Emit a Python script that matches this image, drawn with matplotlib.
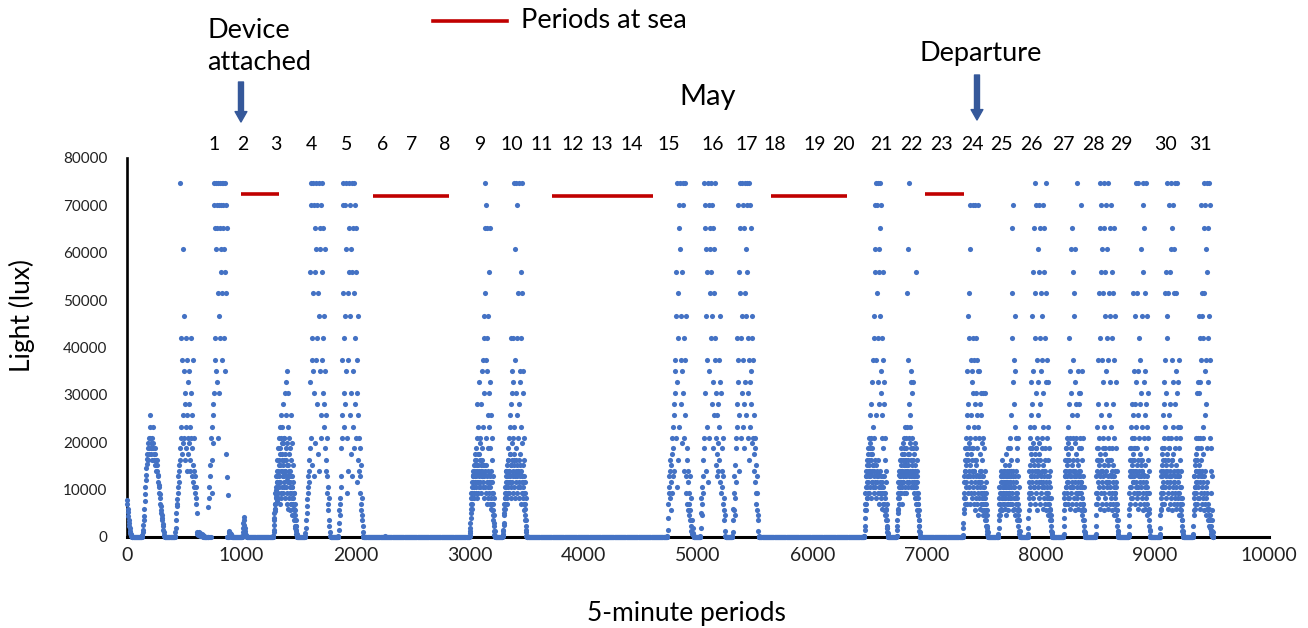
import numpy as np
import matplotlib
matplotlib.use("Agg")
import matplotlib.pyplot as plt
from matplotlib import transforms
from matplotlib.lines import Line2D

plt.rcParams['font.family'] = ['Lato', 'DejaVu Sans']

# ---------------- data ----------------
STEP = 3  # readings shown every 3 five-minute periods

# light bursts (values in klux), start period of each burst
lux_b00 = [7.8, 7, 6, 5.2, 4.5, 3.6, 3, 2.4, 1.8, 1.3, 0.9, 0.6, 0.4, 0.2, 0.1, 0.05, 0]
lux_b01 = [0.2, 0.5, 1, 1.5, 2.5, 3.5, 4.5, 6, 7.5, 9, 10.5, 12, 13, 14.5, 15.5, 16.5,
           17.5, 18.7, 16.3, 19.8, 21, 18.7, 17.5, 23.3, 25.7, 21, 19.8, 18.7, 17.5, 16.3, 18.7,
           21, 23.3, 19.8, 18.7, 17.5, 16.3, 15.2, 17.5, 18.7, 16.3, 15.2, 14, 16.3, 15.2, 14,
           13, 12.8, 11.7, 10.5, 11, 9.3, 9, 8.2, 7, 6.5, 5.8, 5, 4.7, 4, 3.5, 2.8, 2.3, 1.5, 1, 0.5, 0.2]
lux_b02 = [0.3, 1, 2, 3.5, 5, 6.5, 8, 7, 9.3, 10.5, 12.8, 14, 11.7, 15.2, 16.3,
           18.7, 74.7, 21, 42, 23.3, 37.3, 17.5, 60.7, 25.7, 19.8, 46.7, 35, 21, 28, 16.3, 30.3,
           18.7, 23.3, 42, 14, 25.7, 37.3, 17.5, 21, 32.7, 35,
           19.8, 28, 23.3, 14, 16.3, 42, 30.3, 21, 12.8, 18.7, 25.7, 37.3, 15.2, 11.7, 21, 10.5,
           14, 9.3, 12.8, 8.2, 10.5, 7, 5, 1]
lux_b03 = [0.6, 0.9, 0.4, 0.7, 1.0, 0.5, 0.8, 0.3, 0.6, 0.9, 0.4, 0.2, 0.5, 0.3, 0.6, 0.2,
           0.4, 0.1, 0.3, 0.2]
lux_b04 = [0, 6.4, 0, 8.2, 10.5, 0, 12.8, 15.2, 0, 21, 9.3, 23.3, 16.3, 25.7, 19.8, 28,
           74.7, 30.3, 70, 42, 65.3, 37.3, 60.7, 74.7, 35, 70, 32.7, 65.3, 21, 74.7, 51.4, 30.3,
           70, 46.7, 74.7, 42, 65.3, 56, 70, 60.7, 74.7, 51.4, 37.3, 70, 65.3, 74.7, 42,
           60.7, 56, 74.7, 35, 51.4, 70, 17.5, 65.3, 0, 12.7, 0, 8.9, 0, 0]
lux_b05 = [1.1, 0.8, 1.2, 0.6, 0.9, 0.4, 0.7, 0.3, 0.5, 0.2, 0.1]
lux_b06 = [0.3, 1, 2, 3, 4.3, 3.5, 2.6, 1.8, 1.2, 0.8, 0.5, 0.3, 0.2, 0.1, 0]
lux_b07 = [0.3, 1, 2.5, 4, 5.5, 7, 6, 8.5, 10, 9, 11.7, 7.5, 12.8, 10.5, 14, 8.2,
           16.3, 21, 11.7, 23.3, 15.2, 18.7, 25.7, 9.3, 21, 14, 17.5, 23.3, 12.8, 19.8, 28, 16.3,
           10.5, 21, 30.3, 14, 18.7, 25.7, 32.7, 12, 35,
           19.8, 30.3, 15.2, 23.3, 11.7, 21, 17.5, 9.3, 18.7, 14, 25.7, 7, 16.3, 12.8, 19.8, 10.5,
           8.2, 15.2, 11.7, 6,
           9.3, 4.7, 7, 3.5, 5.8, 2.3, 3.5, 1.5, 0.6, 0.2]
lux_b08 = [0.2, 0.8, 2, 3.5, 5, 8, 6.5, 10.5, 12.8, 9.3, 14, 11.7, 16.3, 56, 18.7, 32.7,
           74.7, 21, 70, 42, 37.3, 15.2, 35, 74.7, 51.4, 30.3, 12.8, 70, 56, 19.8, 65.3,
           60.7, 74.7, 37.3, 42, 28, 70, 51.4, 17.5, 46.7, 14, 74.7, 35, 65.3, 60.7, 21,
           70, 25.7, 56, 37.3, 74.7, 42, 65.3, 30.3, 23.3, 46.7, 28, 35, 18.7, 60.7, 16.3,
           25.7, 14, 12.8, 21, 9.3, 10.5, 7, 5.8, 8.2, 3.5, 2.3, 1, 0.3]
lux_b09 = [0.3, 1.5, 3, 5.8, 4.7, 8.2, 7, 10.5, 12.8, 18.7, 21, 37.3, 25.7, 70, 51.4, 74.7,
           30.3, 42, 23.3, 46.7, 70, 28, 35, 60.7, 74.7, 9.3, 21, 51.4, 14, 37.3, 56,
           74.7, 65.3, 25.7, 46.7, 70, 17.5, 60.7, 30.3, 74.7, 12.8, 56, 23.3, 35, 65.3, 51.4,
           74.7, 18.7, 42, 70, 28, 65.3, 21, 56, 11.7, 37.3, 30.3, 16.3, 46.7, 25.7, 14,
           21, 9.3, 18.7, 12.8, 7, 15.2, 5.8, 8.2, 4.7, 3.5, 2.3, 1, 0.3]
lux_b10 = [0.3]
lux_b11 = [0.2, 0.8, 2, 4, 6, 8.2, 7, 10.5, 9.3, 12.8, 11.7, 14, 8.2, 15.2, 10.5, 16.3,
           12.8, 17.5, 9.3, 14, 18.7, 21, 11.7, 28, 15.2, 23.3, 10.5, 32.7, 17.5, 13, 19.8,
           21, 14, 16.3, 28, 12.8, 18.7, 35, 37.3, 23.3, 15.2, 42, 30.3, 46.7, 51.4, 65.3,
           74.7, 37.3, 70, 21, 35, 42, 65.3, 25.7, 18.7, 46.7, 56, 30.3, 23.3, 32.7, 65.3,
           18.7, 25.7, 14, 21, 11.7, 16.3, 9.3, 12.8, 7, 8.2, 4.7, 3, 1.2, 0.3]
lux_b12 = [0.2, 0.6, 1.5, 3, 5, 7, 6, 9.3, 8.2, 11.7, 10.5, 14, 7, 12.8, 16.3, 9.3,
           18.7, 14, 21, 11.7, 23.3, 17.5, 25.7, 15.2, 28, 42, 19.8, 30.3, 35, 21, 32.7,
           42, 16.3, 74.7, 23.3, 60.7, 37.3, 12.8, 74.7, 30.3, 18.7, 70, 25.7, 42, 14, 21,
           51.4, 74.7, 28, 35, 17.5, 32.7, 42, 23.3, 56, 74.7, 51.4, 19.8, 30.3, 15.2, 35,
           21, 12.8, 16.3, 9.3, 11.7, 6, 8.2, 3.5, 1.5, 0.3]
lux_b13 = [0.3, 1.5, 4, 7, 9.3, 12.8, 10.5, 14, 8.2, 16.3, 11.7, 5.8, 15.2, 9.3, 17.5, 21,
           12.8, 23.3, 18.7, 25.7, 28, 14, 30.3, 37.3, 35, 46.7, 56, 21, 74.7, 10.5, 32.7,
           51.4, 16.3, 42, 70, 65.3, 23.3, 74.7, 60.7, 37.3, 28, 46.7, 19.8, 56, 35, 70,
           74.7, 30.3, 14, 42, 21, 74.7, 25.7, 37.3, 9.3, 46.7, 12.8, 18.7, 7, 16.3, 5.8,
           11.7, 14, 4.7, 9.3, 7, 3.5, 12.8, 5.8, 2.3, 8.2, 1.2, 3.5, 0.6, 1.8, 0.4, 0.8, 0.2]
lux_b14 = [0.3, 2, 5, 8.2, 4.7, 10.5, 7, 12.8, 16.3, 9.3, 18.7, 21, 74.7, 70, 30.3, 65.3,
           60.7, 46.7, 14, 56, 23.3, 37.3, 74.7, 11.7, 70, 35, 21, 65.3, 51.4, 60.7, 42,
           74.7, 56, 28, 70, 46.7, 18.7, 32.7, 65.3, 51.4, 25.7, 60.7, 37.3, 74.7, 42, 15.2,
           21, 30.3, 17.5, 25.7, 12.8, 19.8, 28, 14, 23.3, 16.3, 37.3, 46.7, 11.7, 32.7, 9.3,
           30.3, 18.7, 14, 10.5, 21, 7, 12.8, 5.8, 8.2, 3.5, 4.7, 1.2, 0.3]
lux_b15 = [0.2, 1, 3.5, 6, 9.3, 5.8, 12.8, 8.2, 15.2, 4.7, 18.7, 11.7, 21, 42, 28, 23.3,
           70, 37.3, 32.7, 25.7, 56, 14, 65.3, 51.4, 74.7, 42, 21, 30.3, 74.7, 46.7, 70,
           23.3, 37.3, 28, 65.3, 18.7, 74.7, 51.4, 32.7, 60.7, 46.7, 25.7, 70, 74.7, 56, 30.3,
           42, 21, 74.7, 37.3, 16.3, 70, 32.7, 23.3, 65.3, 35, 28, 46.7, 19.8, 42, 21,
           37.3, 17.5, 25.7, 14, 21, 11.7, 18.7, 9.3, 15.2, 7, 12.8, 5.8, 9.3, 3.5, 4.7, 1.2, 0.3]
lux_b16 = [0.3, 1.5, 4, 7, 10.5, 5.8, 12.8, 8.2, 15.2, 11.7, 18.7, 14, 9.3, 21, 16.3, 12.8,
           19.8, 25.7, 14, 21, 17.5, 28, 11.7, 18.7, 32.7, 23.3, 37.3, 15.2, 21, 42, 46.7,
           60.7, 70, 56, 74.7, 25.7, 37.3, 51.4, 70, 32.7, 42, 74.7, 60.7, 28, 56, 46.7,
           65.3, 74.7, 35, 30.3, 70, 21, 42, 25.7, 37.3, 56, 18.7, 28, 12.8, 32.7, 16.3,
           21, 9.3, 14, 5.8, 11.7, 3.5, 7, 1.8, 0.8, 0.2]
lux_b17 = [0.3, 1.5, 3.5, 6, 9.3, 5.8, 11.7, 8.2, 14, 10.5, 12.8, 16.3, 9.3, 18.7, 14, 7,
           17.5, 11.7, 19.8, 13, 21, 15.2, 18.7, 23.3, 12.8, 16.3, 21, 9.3, 18.7, 23.3, 14,
           51.4, 17.5, 37.3, 60.7, 21, 74.7, 28, 19.8, 25.7, 23.3, 35, 18.7, 32.7, 30.3, 16.3,
           21, 18.7, 14, 32.7, 17.5, 12.8, 19.8, 15.2, 10.5, 56, 18.7, 8.2, 14, 11.7, 16.3,
           7, 9.3, 4.7, 5.8, 2.3, 3.5, 1, 0.2]
lux_b18 = [0.3, 2, 5, 8.2, 11.7, 7, 14, 18.7, 10.5, 21, 16.3, 25.7, 12.8, 35, 23.3, 46.7,
           28, 42, 19.8, 51.4, 21, 70, 60.7, 37.3, 25.7, 35, 18.7, 32.7, 30.3, 42, 70,
           23.3, 37.3, 14, 28, 70, 21, 42, 30.3, 16.3, 25.7, 37.3, 18.7, 70, 35, 23.3,
           12.8, 21, 35, 17.5, 28, 11.7, 25.7, 30.3, 14, 19.8, 9.3, 16.3, 21, 12.8, 30.3,
           18.7, 10.5, 14, 8.2, 30.3, 11.7, 7, 9.3, 4.7, 5.8, 2.3, 1, 0.2]
lux_b19 = [0.3, 2, 4.7, 8.2, 5.8, 10.5, 7, 12.8, 9.3, 14, 11.7, 8.2, 16.3, 10.5, 12.8, 9.3,
           14, 7, 11.7, 15.2, 8.2, 12.8, 10.5, 17.5, 9.3, 14, 11.7, 18.7, 7, 12.8, 10.5,
           15.2, 9.3, 21, 11.7, 18.7, 8.2, 14, 25.7, 51.4, 65.3, 42, 70, 32.7, 12.8, 37.3,
           28, 10.5, 23.3, 46.7, 35, 21, 14, 18.7, 9.3, 16.3, 12.8, 7, 21, 10.5, 5.8,
           3.5, 1.2, 0.2]
lux_b20 = [0.3, 2, 5.8, 9.3, 14, 18.7, 23.3, 21, 12.8, 32.7, 25.7, 46.7, 16.3, 28, 56, 35,
           65.3, 10.5, 23.3, 74.7, 42, 51.4, 18.7, 30.3, 70, 21, 37.3, 14, 60.7, 25.7, 32.7,
           56, 70, 19.8, 42, 65.3, 28, 11.7, 51.4, 35, 21, 37.3, 46.7, 23.3, 70, 30.3,
           65.3, 14, 56, 42, 18.7, 51.4, 32.7, 74.7, 37.3, 21, 9.3, 23.3, 16.3, 32.7, 12.8,
           18.7, 7, 14, 10.5, 5.8, 8.2, 3.5, 4.7, 1, 0.2]
lux_b21 = [0.3, 2.3, 5.8, 9.3, 14, 7, 12.8, 18.7, 10.5, 21, 16.3, 11.7, 23.3, 8.2, 19.8, 42,
           14, 28, 21, 35, 12.8, 60.7, 30.3, 18.7, 65.3, 25.7, 10.5, 21, 37.3, 56, 46.7,
           51.4, 14, 32.7, 19.8, 60.7, 28, 12.8, 21, 74.7, 16.3, 25.7, 35, 9.3, 30.3, 18.7,
           28, 14, 21, 30.3, 11.7, 70, 18.7, 35, 8.2, 16.3, 12.8, 21, 7, 10.5, 5.8,
           3.5, 1, 0.2]
lux_b22 = [0.3, 2.3, 7, 12.8, 18.7, 9.3, 23.3, 37.3, 16.3, 28, 51.4, 21, 74.7, 42, 65.3, 56,
           25.7, 70, 37.3, 14, 60.7, 21, 51.4, 32.7, 74.7, 23.3, 65.3, 46.7, 18.7, 56, 35,
           70, 28, 42, 11.7, 60.7, 21, 74.7, 37.3, 25.7, 51.4, 16.3, 65.3, 46.7, 32.7, 70,
           23.3, 56, 18.7, 42, 28, 12.8, 51.4, 37.3, 21, 65.3, 9.3, 46.7, 14, 32.7, 18.7,
           10.5, 14, 5.8, 7, 3.5, 1.2, 0.2]
lux_b23 = [0.3, 2.3, 6, 10.5, 14, 18.7, 8.2, 23.3, 12.8, 21, 28, 16.3, 51.4, 25.7, 11.7, 35,
           21, 18.7, 28, 46.7, 14, 74.7, 23.3, 32.7, 9.3, 51.4, 18.7, 25.7, 35, 74.7, 12.8,
           42, 21, 37.3, 28, 16.3, 60.7, 30.3, 23.3, 46.7, 14, 74.7, 56, 70, 65.3, 32.7,
           21, 51.4, 25.7, 35, 18.7, 74.7, 28, 46.7, 12.8, 23.3, 30.3, 16.3, 21, 9.3, 14,
           5, 1.5, 0.2]
lux_b24 = [0.3, 2, 5.8, 9.3, 14, 7, 12.8, 18.7, 10.5, 25.7, 16.3, 28, 21, 32.7, 51.4, 37.3,
           23.3, 56, 30.3, 14, 42, 74.7, 46.7, 21, 51.4, 18.7, 70, 25.7, 12.8, 56, 28,
           60.7, 74.7, 21, 37.3, 16.3, 65.3, 32.7, 23.3, 70, 11.7, 51.4, 60.7, 18.7, 74.7, 28,
           35, 21, 51.4, 14, 30.3, 74.7, 23.3, 32.7, 9.3, 18.7, 37.3, 12.8, 23.3, 21, 16.3,
           10.5, 14, 7, 8.2, 3.5, 1.2, 0.2]
lux_b25 = [0.3, 2.3, 5.8, 9.3, 12.8, 7, 16.3, 10.5, 14, 21, 11.7, 18.7, 30.3, 32.7, 8.2, 21,
           46.7, 30.3, 14, 42, 32.7, 21, 70, 18.7, 37.3, 51.4, 12.8, 46.7, 21, 42, 23.3,
           65.3, 74.7, 51.4, 35, 25.7, 70, 28, 37.3, 60.7, 74.7, 56, 18.7, 42, 65.3, 32.7,
           74.7, 46.7, 21, 70, 37.3, 14, 18.7, 9.3, 12.8, 5.8, 3.5, 1, 0.2]

burst_starts = [0, 130, 420, 615, 710, 890, 1010, 1280, 1560, 1850, 2260, 3000, 3290,
                4730, 5020, 5300, 6455, 6740, 7320, 7630, 7890, 8200, 8480, 8770, 9045, 9335]
burst_values = [lux_b00, lux_b01, lux_b02, lux_b03, lux_b04, lux_b05, lux_b06, lux_b07,
                lux_b08, lux_b09, lux_b10, lux_b11, lux_b12, lux_b13, lux_b14, lux_b15,
                lux_b16, lux_b17, lux_b18, lux_b19, lux_b20, lux_b21, lux_b22, lux_b23,
                lux_b24, lux_b25]

# additional (interleaved) low-light readings inside the denser days, klux
lux_f07 = [0.2, 1.5, 3.5, 5, 7, 9.3, 6, 10.5, 12.8, 8.2, 14, 11.7, 16.3, 9.3, 13, 18.7,
           10.5, 15.2, 12.8, 7, 17.5, 11.7, 14, 8.2, 16.3, 19.8, 10.5, 12.8, 15.2, 9.3, 21,
           13, 11.7, 17.5, 8.2, 14, 10.5, 16.3, 12.8, 7, 15.2, 9.3, 13, 11.7, 6,
           14, 8.2, 12.8, 10.5, 5.8, 11.7, 7, 9.3, 12.8, 4.7, 8.2, 10.5, 6, 7, 9.3,
           3.5, 5.8, 2.3, 4.7, 1.8, 2.3, 1.2, 0.6, 0.3, 0.1]
lux_f11 = [0.3, 1.2, 3, 5, 7, 9.3, 6, 11.7, 8.2, 13, 10.5, 12.8, 14, 9.3, 15.2, 11.7,
           13, 16.3, 10.5, 12.8, 14, 8.2, 15.2, 11.7, 17.5, 9.3, 13, 12.8, 14, 10.5, 16.3,
           11.7, 15.2, 13, 9.3, 14, 12.8, 16.3, 10.5, 13, 11.7, 8.2, 15.2, 12.8, 14,
           10.5, 13, 9.3, 15.2, 11.7, 7, 12.8, 14, 10.5, 8.2, 13, 11.7, 9.3, 12.8, 7,
           10.5, 8.2, 11.7, 6, 9.3, 5.8, 7, 4.7, 5.8, 3.5, 2.3, 1.2, 0.5, 0.2]
lux_f12 = [0.3, 1.2, 2.5, 4.7, 6, 8.2, 10.5, 7, 12.8, 9.3, 14, 11.7, 8.2, 15.2, 12.8, 10.5,
           16.3, 13, 9.3, 14, 11.7, 17.5, 12.8, 10.5, 15.2, 8.2, 13, 16.3, 11.7, 14, 9.3,
           12.8, 15.2, 10.5, 17.5, 13, 8.2, 14, 11.7, 16.3, 12.8, 9.3, 15.2, 10.5, 13,
           14, 11.7, 16.3, 8.2, 12.8, 15.2, 10.5, 13, 7, 14, 11.7, 9.3, 12.8, 10.5, 8.2,
           11.7, 7, 9.3, 5.8, 7, 4.7, 3.5, 2.3, 1, 0.2]
lux_f16 = [0.3, 2.3, 5.8, 9.3, 12.8, 7, 14, 10.5, 16.3, 8.2, 13, 17.5, 11.7, 15.2, 9.3, 14,
           18.7, 12.8, 10.5, 16.3, 13, 8.2, 14, 11.7, 17.5, 10.5, 15.2, 12.8, 9.3, 14, 11.7,
           16.3, 10.5, 13, 8.2, 15.2, 12.8, 11.7, 14, 9.3, 12.8, 16.3, 10.5, 7, 13,
           11.7, 9.3, 14, 8.2, 12.8, 10.5, 6, 11.7, 9.3, 12.8, 7, 10.5, 5.8, 9.3, 7,
           8.2, 4.7, 6, 3.5, 4.7, 2.3, 1.8, 1, 0.4, 0.1]
lux_f17 = [0.3, 2.3, 5, 8.2, 11.7, 7, 13, 10.5, 14, 12.8, 9.3, 15.2, 11.7, 16.3, 13, 10.5,
           14, 12.8, 16.3, 11.7, 15.2, 9.3, 17.5, 13, 14, 10.5, 16.3, 12.8, 15.2, 11.7, 13,
           14, 16.3, 10.5, 15.2, 12.8, 17.5, 11.7, 14, 13, 16.3, 10.5, 12.8, 15.2, 11.7,
           14, 12.8, 10.5, 16.3, 9.3, 13, 11.7, 14, 8.2, 12.8, 10.5, 7, 11.7, 9.3, 12.8,
           5.8, 8.2, 4.7, 7, 3.5, 2.3, 1.2, 0.4, 0.1]
lux_f18 = [0.5, 3, 6, 9.3, 12.8, 16.3, 8.2, 14, 18.7, 11.7, 15.2, 7, 17.5, 12.8, 9.3, 16.3,
           14, 10.5, 18.7, 7, 12.8, 15.2, 9.3, 17.5, 11.7, 14, 8.2, 16.3, 10.5, 12.8, 18.7,
           7, 14, 9.3, 11.7, 16.3, 5.8, 12.8, 8.2, 15.2, 10.5, 7, 13, 9.3, 11.7, 4.7,
           8.2, 12.8, 6, 10.5, 14, 7, 9.3, 11.7, 5.8, 8.2, 12.8, 4.7, 10.5, 7, 9.3,
           5.8, 8.2, 3.5, 7, 4.7, 5.8, 2.3, 3.5, 1.8, 1.2, 0.6, 0.3, 0.1]
lux_f19 = [0.6, 3.5, 7, 10.5, 4.7, 9.3, 12.8, 6, 11.7, 8.2, 13, 5.8, 10.5, 12.8, 7, 9.3,
           11.7, 14, 6, 10.5, 8.2, 12.8, 4.7, 9.3, 11.7, 7, 13, 8.2, 10.5, 5.8, 12.8,
           9.3, 14, 7, 11.7, 8.2, 16.3, 10.5, 12.8, 7, 9.3, 14, 5.8, 11.7, 8.2,
           10.5, 6, 12.8, 8.2, 4.7, 9.3, 7, 11.7, 5.8, 8.2, 3.5, 6, 4.7, 2.3, 3.5,
           1.2, 0.6, 0.2]
lux_f20 = [0.6, 4, 8.2, 11.7, 7, 15.2, 10.5, 17.5, 12.8, 9.3, 18.7, 14, 11.7, 16.3, 8.2, 19.8,
           12.8, 15.2, 10.5, 17.5, 7, 14, 11.7, 18.7, 9.3, 16.3, 12.8, 5.8, 15.2, 10.5, 14,
           8.2, 17.5, 11.7, 7, 13, 16.3, 9.3, 12.8, 18.7, 10.5, 14, 6, 11.7, 15.2, 8.2,
           12.8, 10.5, 16.3, 7, 14, 9.3, 11.7, 5.8, 12.8, 8.2, 10.5, 4.7, 9.3, 7, 11.7,
           5.8, 8.2, 3.5, 6, 4.7, 2.3, 3.5, 1.2, 0.6, 0.2]
lux_f21 = [0.6, 4, 8.2, 12.8, 7, 16.3, 10.5, 14, 18.7, 9.3, 12.8, 15.2, 7, 11.7, 17.5, 13,
           8.2, 16.3, 10.5, 14, 6, 12.8, 18.7, 9.3, 15.2, 11.7, 7, 14, 10.5, 16.3, 8.2,
           12.8, 5.8, 11.7, 14, 9.3, 17.5, 7, 10.5, 13, 8.2, 15.2, 11.7, 6, 12.8, 9.3,
           14, 7, 10.5, 12.8, 5.8, 9.3, 11.7, 4.7, 8.2, 10.5, 6, 7, 3.5, 5.8, 2.3,
           1.2, 0.6, 0.2]
lux_f22 = [0.6, 4.7, 9.3, 14, 7, 16.3, 11.7, 18.7, 8.2, 13, 15.2, 10.5, 17.5, 6, 12.8, 14,
           9.3, 16.3, 11.7, 7, 14, 18.7, 10.5, 12.8, 5.8, 15.2, 9.3, 13, 17.5, 8.2, 11.7,
           14, 7, 16.3, 10.5, 12.8, 6, 15.2, 9.3, 18.7, 11.7, 7, 13, 10.5, 16.3, 8.2,
           12.8, 5.8, 14, 9.3, 11.7, 7, 15.2, 10.5, 4.7, 12.8, 8.2, 9.3, 6, 11.7, 7,
           4.7, 5.8, 2.3, 3.5, 1.2, 0.6, 0.2]
lux_f23 = [0.6, 4.7, 9.3, 12.8, 16.3, 7, 14, 18.7, 10.5, 12.8, 15.2, 8.2, 17.5, 11.7, 14, 9.3,
           16.3, 12.8, 7, 18.7, 10.5, 14, 11.7, 15.2, 8.2, 13, 16.3, 10.5, 6, 12.8, 14,
           9.3, 17.5, 11.7, 7, 15.2, 10.5, 12.8, 8.2, 16.3, 14, 5.8, 11.7, 9.3, 13,
           7, 12.8, 10.5, 15.2, 6, 9.3, 11.7, 8.2, 4.7, 10.5, 7, 5.8, 9.3, 3.5, 6,
           2.3, 1.2, 0.3]
lux_f24 = [0.6, 4.7, 8.2, 12.8, 6, 15.2, 10.5, 17.5, 9.3, 14, 11.7, 18.7, 7, 13, 16.3, 10.5,
           12.8, 15.2, 8.2, 17.5, 11.7, 14, 6, 16.3, 9.3, 12.8, 18.7, 10.5, 7, 14, 11.7,
           15.2, 8.2, 12.8, 16.3, 9.3, 5.8, 13, 10.5, 17.5, 7, 11.7, 14, 8.2, 12.8, 9.3,
           15.2, 6, 10.5, 12.8, 7, 14, 8.2, 11.7, 4.7, 9.3, 12.8, 6, 10.5, 7, 8.2,
           4.7, 5.8, 2.3, 3.5, 1.2, 0.6, 0.2]
lux_f25 = [0.6, 4.7, 8.2, 12.8, 6, 15.2, 10.5, 17.5, 9.3, 14, 11.7, 7, 16.3, 12.8, 18.7, 10.5,
           14, 8.2, 15.2, 11.7, 6, 13, 16.3, 9.3, 12.8, 7, 14, 10.5, 17.5, 8.2, 11.7,
           5.8, 12.8, 9.3, 14, 7, 10.5, 4.7, 8.2, 11.7, 6, 9.3, 3.5, 7, 5.8, 4.7,
           2.3, 6, 3.5, 1.8, 4.7, 1.2, 2.3, 0.6, 1.2, 0.4, 0.2, 0.1, 0]

fill_starts = [1281, 3001, 3291, 6456, 6741, 7321, 7631, 7891, 8201, 8481, 8771, 9046, 9336]
fill_values = [lux_f07, lux_f11, lux_f12, lux_f16, lux_f17, lux_f18, lux_f19, lux_f20,
               lux_f21, lux_f22, lux_f23, lux_f24, lux_f25]

record_end = 9510  # last recorded period

# periods at sea (start period, end period, plotted level)
sea_start = [998, 2154, 3722, 5640, 6988]
sea_end = [1331, 2820, 4606, 6305, 7329]
sea_level = [72300, 71900, 71900, 71900, 72300]

# day-of-May labels
may_days = list(range(1, 32))
day_label_pos = [762, 1018, 1305, 1617, 1924, 2239, 2493, 2785, 3097, 3369, 3631, 3902,
                 4157, 4419, 4740, 5130, 5426, 5674, 6025, 6272, 6609, 6871, 7134, 7405,
                 7659, 7922, 8199, 8462, 8710, 9098, 9396]
attach_period = 998
departure_period = 7443

# ---------------- build series ----------------
xs, ys = [], []
ranges = []
for s, vals in zip(burst_starts, burst_values):
    for i, v in enumerate(vals):
        xs.append(s + STEP * i)
        ys.append(v * 1000.0)
    ranges.append((s, s + STEP * (len(vals) - 1)))
for s, vals in zip(fill_starts, fill_values):
    for i, v in enumerate(vals):
        xs.append(s + STEP * i)
        ys.append(v * 1000.0)
for p in range(0, record_end + 1, STEP):
    if not any(a <= p <= b for a, b in ranges):
        xs.append(p)
        ys.append(0.0)
xs = np.array(xs)
ys = np.array(ys)

# ---------------- figure ----------------
W, H = 1308, 628
fig = plt.figure(figsize=(W / 100, H / 100), dpi=100)
ax = fig.add_axes([127 / W, 1 - 537 / H, (1269 - 127) / W, (537 - 158) / H])

blue = '#4472C4'
red = '#C00000'
arrow_blue = '#35589A'

ax.plot(xs, ys, 'o', ms=3.7, mew=0, color=blue, clip_on=False, zorder=3)

for a, b, lv in zip(sea_start, sea_end, sea_level):
    ax.plot([a, b], [lv, lv], color=red, lw=2.6, solid_capstyle='butt', zorder=4)

ax.set_xlim(0, 10000)
ax.set_ylim(0, 80000)
ax.set_xticks(np.arange(0, 10001, 1000))
ax.set_yticks(np.arange(0, 80001, 10000))
ax.tick_params(axis='x', length=0, pad=7, labelsize=14, labelcolor='#222222')
ax.tick_params(axis='y', length=0, pad=14, labelsize=11, labelcolor='#222222')
for sp in ['top', 'right']:
    ax.spines[sp].set_visible(False)
ax.spines['left'].set_linewidth(1.9)
ax.spines['bottom'].set_linewidth(2.2)
ax.spines['left'].set_color('black')
ax.spines['bottom'].set_color('black')


def fp(x, y):
    return (x / W, 1 - y / H)


fig.text(*fp(22, 316), 'Light (lux)', rotation=90, ha='center', va='center', fontsize=19)
fig.text(*fp(686, 614), '5-minute periods', ha='center', va='center', fontsize=19)

# day labels
trans = transforms.blended_transform_factory(ax.transData, fig.transFigure)
for d, xp in zip(may_days, day_label_pos):
    ax.text(xp, 1 - 145 / H, str(d), transform=trans, ha='center', va='center',
            fontsize=14, clip_on=False)

fig.text(*fp(708, 97), 'May', ha='center', va='center', fontsize=21)

# legend for periods at sea
fig.add_artist(Line2D([433 / W, 507 / W], [1 - 21 / H] * 2, color=red, lw=2.6))
fig.text(*fp(521, 21), 'Periods at sea', ha='left', va='center', fontsize=19.5)

fig.text(*fp(207, 30), 'Device', ha='left', va='center', fontsize=19.5)
fig.text(*fp(207, 62), 'attached', ha='left', va='center', fontsize=19.5)
fig.text(*fp(981, 54), 'Departure', ha='center', va='center', fontsize=19.5)

for xp, y0, y1 in [(attach_period, 82, 122), (departure_period, 75, 120)]:
    ax.annotate('', xy=(xp, H - y1), xycoords=('data', 'figure pixels'),
                xytext=(xp, H - y0), textcoords=('data', 'figure pixels'),
                arrowprops=dict(width=3.6, headwidth=8.5, headlength=7.5,
                                color=arrow_blue, shrink=0), annotation_clip=False)

fig.savefig('out.png', dpi=100)
